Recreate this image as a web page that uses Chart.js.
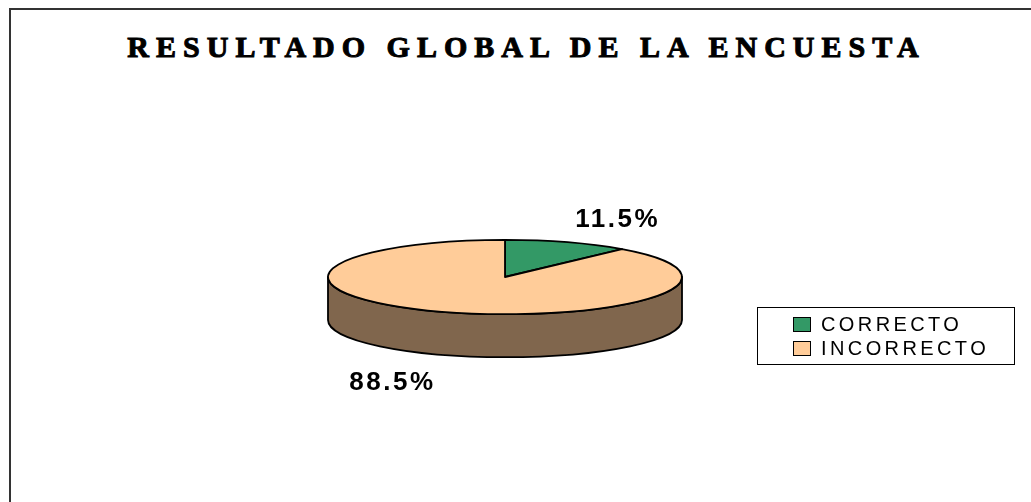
<!DOCTYPE html>
<html lang="es">
<head>
  <meta charset="UTF-8">
  <script src="https://cdn.jsdelivr.net/npm/chart.js"></script>
  <title>Resultado global de la encuesta</title>
  <style>
    body {
      margin: 0;
      padding: 0;
      width: 1031px;
      height: 502px;
      overflow: hidden;
      background: #fff;
      position: relative;
    }
    .frame {
      position: absolute;
      left: 9px;
      top: 8px;
      width: 1100px;
      height: 600px;
      border-left: 2px solid #333;
      border-top: 2px solid #333;
    }
    #title {
      position: absolute;
      left: 1px;
      top: 30px;
      width: 1051px;
      text-align: center;
      font-family: "Liberation Serif", "DejaVu Serif", serif;
      font-weight: bold;
      font-size: 30px;
      letter-spacing: 7px;
      -webkit-text-stroke: 1px #000;
      color: #000;
      white-space: nowrap;
    }
    #legend {
      position: absolute;
      left: 757px;
      top: 307px;
      width: 258px;
      height: 58px;
      border: 1px solid #000;
      box-sizing: border-box;
      font-family: Arial, "Liberation Sans", sans-serif;
      font-size: 20px;
      letter-spacing: 3.4px;
      color: #000;
    }
    #legend .item {
      position: absolute;
      left: 35px;
      height: 24px;
      line-height: 24px;
      white-space: nowrap;
    }
    #legend .box {
      display: inline-block;
      width: 16px;
      height: 13px;
      border: 1px solid #000;
      margin-right: 10px;
      vertical-align: -1px;
    }
    canvas { position: absolute; left: 0; top: 0; }
  </style>
</head>
<body>
<div class="frame"></div>
<div id="title">RESULTADO GLOBAL DE LA ENCUESTA</div>
<canvas id="pieChart" width="1031" height="502"></canvas>
<div id="legend"></div>

<script>
  // survey results, in percent
  const categories = ['CORRECTO', 'INCORRECTO'];
  const percentages = [11.5, 88.5];
  const sliceColors = ['#339966', '#FFCC99'];

  const TILT = 0.21;   // vertical squash of the pie
  const DEPTH = 43;    // thickness of the pie

  // half-brightness shade for the side walls, like Excel does
  function shade(hex, f) {
    const n = parseInt(hex.slice(1), 16);
    const r = Math.round(((n >> 16) & 255) * f);
    const g = Math.round(((n >> 8) & 255) * f);
    const b = Math.round((n & 255) * f);
    return `rgb(${r},${g},${b})`;
  }

  function arcProps(arc) {
    return arc.getProps(['x', 'y', 'startAngle', 'endAngle', 'outerRadius'], true);
  }

  // draws the pie as a tilted 3D disk, using the arc elements from Chart.js
  const pie3d = {
    id: 'pie3d',
    beforeDatasetsDraw(chart) {
      const ctx = chart.ctx;
      const meta = chart.getDatasetMeta(0);
      ctx.save();
      ctx.lineWidth = 1.8;
      ctx.strokeStyle = '#000';
      ctx.lineJoin = 'round';

      // side walls (only the front half, angles 0..PI, is visible)
      meta.data.forEach((arc, i) => {
        const { x, y, startAngle, endAngle, outerRadius } = arcProps(arc);
        const rx = outerRadius, ry = outerRadius * TILT;
        for (let k = -1; k <= 1; k++) {
          const lo = Math.max(startAngle, 2 * Math.PI * k);
          const hi = Math.min(endAngle, 2 * Math.PI * k + Math.PI);
          if (hi <= lo) continue;
          ctx.beginPath();
          ctx.ellipse(x, y, rx, ry, 0, lo, hi);
          ctx.lineTo(x + rx * Math.cos(hi), y + ry * Math.sin(hi) + DEPTH);
          ctx.ellipse(x, y + DEPTH, rx, ry, 0, hi, lo, true);
          ctx.closePath();
          ctx.fillStyle = shade(sliceColors[i], 0.5);
          ctx.fill();
          ctx.stroke();
        }
      });

      // top faces
      meta.data.forEach((arc, i) => {
        const { x, y, startAngle, endAngle, outerRadius } = arcProps(arc);
        const rx = outerRadius, ry = outerRadius * TILT;
        ctx.beginPath();
        ctx.moveTo(x, y);
        ctx.ellipse(x, y, rx, ry, 0, startAngle, endAngle);
        ctx.closePath();
        ctx.fillStyle = sliceColors[i];
        ctx.fill();
        ctx.stroke();
      });

      ctx.restore();
      return false;
    },
    // percentage labels (afterDatasetsDraw is skipped when drawing is cancelled)
    afterDraw(chart) {
      const ctx = chart.ctx;
      const meta = chart.getDatasetMeta(0);
      ctx.save();
      ctx.font = 'bold 26px Arial, "Liberation Sans", sans-serif';
      ctx.letterSpacing = '2.5px';
      ctx.fillStyle = '#000';
      ctx.textAlign = 'center';
      ctx.textBaseline = 'middle';
      meta.data.forEach((arc, i) => {
        const { x, y, startAngle, endAngle, outerRadius } = arcProps(arc);
        const mid = (startAngle + endAngle) / 2;
        const lx = x + Math.cos(mid) * outerRadius * 1.8;
        const ly = y + DEPTH * 0.57 + Math.sin(mid) * (outerRadius * TILT + 50);
        ctx.fillText(percentages[i].toFixed(1) + '%', lx, ly);
      });
      ctx.restore();
    }
  };

  const chart = new Chart(document.getElementById('pieChart'), {
    type: 'pie',
    data: {
      labels: categories,
      datasets: [{
        data: percentages,
        backgroundColor: sliceColors,
        borderWidth: 0
      }]
    },
    options: {
      responsive: false,
      animation: false,
      layout: {
        padding: { left: 328, right: 349, top: 100, bottom: 48 }
      },
      plugins: {
        legend: { display: false },
        tooltip: { enabled: false }
      }
    },
    plugins: [pie3d]
  });

  // legend box built from the same arrays
  const legendEl = document.getElementById('legend');
  categories.forEach((name, i) => {
    const item = document.createElement('div');
    item.className = 'item';
    item.style.top = (4 + i * 24) + 'px';
    item.innerHTML = `<span class="box" style="background:${sliceColors[i]}"></span>${name}`;
    legendEl.appendChild(item);
  });
</script>
</body>
</html>
